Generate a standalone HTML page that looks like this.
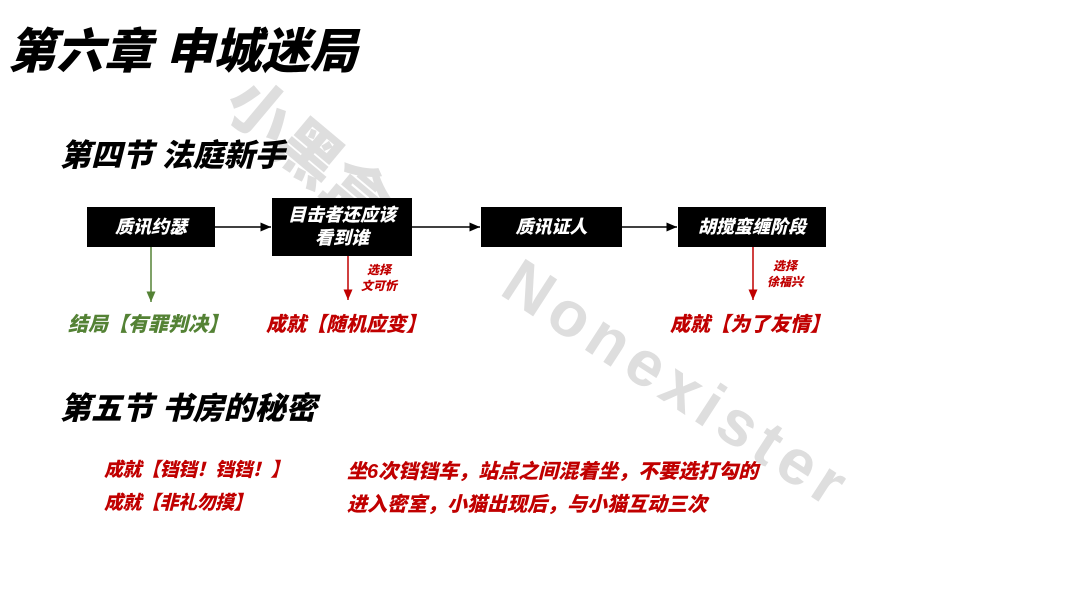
<!DOCTYPE html>
<html><head><meta charset="utf-8"><style>
body{margin:0;width:1080px;height:607px;background:#fff;position:relative;overflow:hidden;font-family:"Liberation Sans","Noto Sans CJK SC",sans-serif;font-weight:900;font-style:italic}
.a{position:absolute;white-space:nowrap}
.box{position:absolute;background:#000;color:#fff;font-size:18px;display:flex;align-items:center;justify-content:center;text-align:center;line-height:23px}
.wm{position:absolute;color:#dedede;font-style:normal;font-weight:900;white-space:nowrap;transform-origin:left center}
.red{color:#c00000}
</style></head><body>
<div class="wm" style="left:238px;top:42px;font-size:64px;transform:rotate(40deg)">小黑盒</div>
<div class="wm" style="left:510px;top:238px;font-size:64px;letter-spacing:7px;font-family:'Liberation Sans',sans-serif;transform:rotate(33deg)">Nonexister</div>

<div class="a" style="left:8px;top:12px;font-size:48px;color:#000">第六章 申城迷局</div>
<div class="a" style="left:60px;top:130px;font-size:31px">第四节 法庭新手</div>

<div class="box" style="left:87px;top:207px;width:128px;height:40px">质讯约瑟</div>
<div class="box" style="left:272px;top:198px;width:140px;height:58px">目击者还应该<br>看到谁</div>
<div class="box" style="left:481px;top:207px;width:141px;height:40px">质讯证人</div>
<div class="box" style="left:678px;top:207px;width:148px;height:40px">胡搅蛮缠阶段</div>

<svg class="a" style="left:0;top:0" width="1080" height="607">
<defs>
<marker id="k" markerWidth="8" markerHeight="8" refX="7" refY="4" orient="auto"><path d="M0,1 L7,4 L0,7z" fill="#000"/></marker>
<marker id="g" markerWidth="8" markerHeight="8" refX="7" refY="4" orient="auto"><path d="M0,1 L7,4 L0,7z" fill="#548235"/></marker>
<marker id="r" markerWidth="8" markerHeight="8" refX="7" refY="4" orient="auto"><path d="M0,1 L7,4 L0,7z" fill="#c00000"/></marker>
</defs>
<line x1="215" y1="227" x2="271" y2="227" stroke="#000" stroke-width="1.5" marker-end="url(#k)"/>
<line x1="412" y1="227" x2="480" y2="227" stroke="#000" stroke-width="1.5" marker-end="url(#k)"/>
<line x1="622" y1="227" x2="677" y2="227" stroke="#000" stroke-width="1.5" marker-end="url(#k)"/>
<line x1="151" y1="247" x2="151" y2="302" stroke="#548235" stroke-width="1.5" marker-end="url(#g)"/>
<line x1="348" y1="256" x2="348" y2="300" stroke="#c00000" stroke-width="1.5" marker-end="url(#r)"/>
<line x1="753" y1="247" x2="753" y2="300" stroke="#c00000" stroke-width="1.5" marker-end="url(#r)"/>
</svg>

<div class="a red" style="left:361px;top:262px;font-size:12px;line-height:16px;text-align:center">选择<br>文可忻</div>
<div class="a red" style="left:767px;top:258px;font-size:12px;line-height:16px;text-align:center">选择<br>徐福兴</div>

<div class="a" style="left:68px;top:308px;font-size:20px;color:#548235">结局【有罪判决】</div>
<div class="a red" style="left:266px;top:308px;font-size:20px">成就【随机应变】</div>
<div class="a red" style="left:670px;top:308px;font-size:20px">成就【为了友情】</div>

<div class="a" style="left:60px;top:383px;font-size:31px">第五节 书房的秘密</div>

<div class="a red" style="left:104px;top:455px;font-size:19px;letter-spacing:-0.5px">成就【铛铛！铛铛！】</div>
<div class="a red" style="left:347px;top:455px;font-size:20px">坐6次铛铛车，站点之间混着坐，不要选打勾的</div>
<div class="a red" style="left:104px;top:488px;font-size:19px;letter-spacing:-0.5px">成就【非礼勿摸】</div>
<div class="a red" style="left:347px;top:488px;font-size:20px">进入密室，小猫出现后，与小猫互动三次</div>
</body></html>
